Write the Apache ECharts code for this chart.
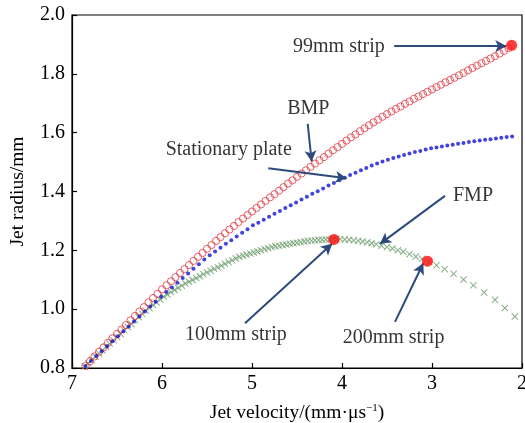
<!DOCTYPE html>
<html><head><meta charset="utf-8">
<script src="https://cdn.jsdelivr.net/npm/echarts@6/dist/echarts.min.js"></script>
<style>html,body{margin:0;padding:0;background:#fff}#c{width:525px;height:423px}</style>
</head><body><div id="c"></div>
<script>
// BMP (red open circles)
const bmpV = [6.85,6.80,6.75,6.70,6.65,6.60,6.55,6.50,6.45,6.40,
6.35,6.30,6.25,6.20,6.15,6.10,6.05,6.00,5.95,5.90,
5.85,5.80,5.75,5.70,5.65,5.60,5.55,5.50,5.45,5.40,
5.35,5.30,5.25,5.20,5.15,5.10,5.05,5.00,4.95,4.90,
4.85,4.80,4.75,4.70,4.65,4.60,4.55,4.50,4.45,4.40,
4.35,4.30,4.25,4.20,4.15,4.10,4.05,4.00,3.95,3.90,
3.85,3.80,3.75,3.70,3.65,3.60,3.55,3.50,3.45,3.40,
3.35,3.30,3.25,3.20,3.15,3.10,3.05,3.00,2.95,2.90,
2.85,2.80,2.75,2.70,2.65,2.60,2.55,2.50,2.45,2.40,
2.35,2.30,2.25,2.20,2.15];
const bmpR = [0.807,0.823,0.839,0.855,0.870,0.886,0.901,0.916,0.931,0.946,
0.962,0.977,0.992,1.007,1.023,1.038,1.052,1.067,1.081,1.095,
1.109,1.123,1.136,1.150,1.164,1.178,1.191,1.205,1.218,1.232,
1.245,1.258,1.271,1.283,1.296,1.308,1.320,1.332,1.344,1.356,
1.368,1.380,1.391,1.403,1.415,1.427,1.438,1.450,1.461,1.472,
1.484,1.495,1.506,1.517,1.529,1.540,1.551,1.562,1.573,1.584,
1.594,1.605,1.615,1.625,1.635,1.644,1.654,1.663,1.672,1.681,
1.689,1.698,1.706,1.715,1.723,1.731,1.739,1.747,1.755,1.763,
1.771,1.779,1.787,1.795,1.803,1.812,1.820,1.828,1.836,1.844,
1.852,1.860,1.869,1.878,1.887];

// Stationary plate (blue dots)
const plateV = [6.85,6.79,6.73,6.67,6.61,6.55,6.49,6.43,6.37,6.31,
6.25,6.19,6.13,6.07,6.01,5.95,5.89,5.83,5.77,5.71,
5.65,5.59,5.53,5.47,5.41,5.35,5.29,5.23,5.17,5.11,
5.05,4.99,4.93,4.87,4.81,4.75,4.69,4.63,4.57,4.51,
4.45,4.39,4.33,4.27,4.21,4.15,4.09,4.03,3.97,3.91,
3.85,3.79,3.73,3.67,3.61,3.55,3.49,3.43,3.37,3.31,
3.25,3.19,3.13,3.07,3.01,2.95,2.89,2.83,2.77,2.71,
2.65,2.59,2.53,2.47,2.41,2.35,2.29,2.23,2.17,2.11];
const plateR = [0.807,0.824,0.841,0.857,0.874,0.891,0.908,0.925,0.941,0.958,
0.975,0.992,1.009,1.025,1.042,1.058,1.074,1.090,1.106,1.121,
1.137,1.153,1.169,1.183,1.196,1.209,1.222,1.234,1.247,1.260,
1.272,1.285,1.294,1.304,1.314,1.324,1.334,1.344,1.353,1.363,
1.373,1.382,1.392,1.401,1.410,1.420,1.429,1.438,1.447,1.456,
1.464,1.472,1.480,1.488,1.495,1.502,1.508,1.514,1.519,1.524,
1.529,1.534,1.538,1.543,1.547,1.550,1.553,1.556,1.559,1.562,
1.565,1.568,1.571,1.573,1.576,1.578,1.580,1.583,1.585,1.587];

// FMP (green crosses)
const fmpV = [6.86,6.82,6.78,6.74,6.70,6.66,6.62,6.58,6.54,6.50,
6.46,6.42,6.38,6.34,6.30,6.26,6.22,6.18,6.14,6.10,
6.06,6.02,5.98,5.94,5.90,5.86,5.82,5.78,5.74,5.70,
5.66,5.62,5.58,5.54,5.50,5.46,5.42,5.38,5.34,5.30,
5.26,5.22,5.18,5.14,5.10,5.06,5.02,4.98,4.94,4.90,
4.86,4.82,4.78,4.74,4.70,4.66,4.62,4.58,4.54,4.50,
4.46,4.42,4.38,4.34,4.30,4.26,4.22,4.18,4.14,
4.10,4.06,4.02,3.97,3.92,3.87,3.82,3.77,3.72,3.67,
3.62,3.56,3.50,3.44,3.38,3.32,3.25,3.18,3.11,3.03,
2.95,2.86,2.76,2.65,2.54,2.42,2.30,2.19,2.08];
const fmpR = [0.805,0.816,0.827,0.838,0.849,0.860,0.872,0.883,0.894,0.905,
0.916,0.928,0.939,0.950,0.962,0.973,0.984,0.995,1.004,1.014,
1.023,1.033,1.042,1.050,1.058,1.065,1.073,1.080,1.087,1.093,
1.099,1.106,1.112,1.119,1.125,1.131,1.137,1.142,1.148,1.154,
1.160,1.166,1.172,1.178,1.182,1.185,1.189,1.193,1.196,1.200,
1.204,1.207,1.211,1.214,1.216,1.218,1.220,1.222,1.224,1.226,
1.228,1.230,1.232,1.233,1.234,1.235,1.236,1.237,1.237,
1.238,1.238,1.238,1.237,1.236,1.234,1.232,1.230,1.227,1.224,
1.221,1.216,1.211,1.206,1.200,1.195,1.187,1.179,1.171,1.160,
1.149,1.136,1.120,1.101,1.081,1.057,1.032,1.004,0.975];

// Strip positions (red filled dots)
const stripV = [2.115, 4.09, 3.05];
const stripR = [1.897, 1.237, 1.163];

// Annotations
const annotText = ['99mm strip','BMP','Stationary plate','FMP','100mm strip','200mm strip'];
const annotV = [4.544, 4.374, 5.959, 2.767, 5.744, 3.992];
const annotR = [1.893, 1.683, 1.541, 1.387, 0.912, 0.904];
const arrowFrom = [[3.42,1.895],[4.381,1.63],[4.819,1.479],[2.856,1.385],[5.078,0.952],[3.411,0.957]];
const arrowTo   = [[2.175,1.895],[4.337,1.502],[3.948,1.445],[3.578,1.222],[4.11,1.222],[3.097,1.156]];

// Axis ticks
const xMin = 2, xMax = 7, xStep = 1;
const yMin = 0.8, yMax = 2.0, yStep = 0.2;

const FONT = "'Liberation Serif', 'Times New Roman', serif";
const zip = (a, b) => a.map((v, i) => [v, b[i]]);
const crossPath = 'path://M0,1 L1,0 L5,4 L9,0 L10,1 L6,5 L10,9 L9,10 L5,6 L1,10 L0,9 L4,5 Z';

const chart = echarts.init(document.getElementById('c'), null, {renderer: 'canvas'});
chart.setOption({
  animation: false,
  backgroundColor: '#fff',
  grid: {left: 72, right: 3, top: 15, bottom: 55, containLabel: false, outerBoundsMode: 'none',
         show: true, borderColor: '#000', borderWidth: 1.2, backgroundColor: 'transparent'},
  xAxis: {
    type: 'value', min: xMin, max: xMax, interval: xStep, inverse: true,
    name: 'Jet velocity/(mm·μs{sup|−1})', nameLocation: 'middle', nameGap: 35,
    nameTextStyle: {fontFamily: FONT, fontSize: 19.5, color: '#000',
      rich: {sup: {fontFamily: FONT, fontSize: 11, color: '#000', padding: [0, 0, 9, 0]}}},
    axisLine: {lineStyle: {color: '#000', width: 1.2}},
    axisTick: {inside: true, length: 5, lineStyle: {color: '#000', width: 1.2}},
    axisLabel: {fontFamily: FONT, fontSize: 20, color: '#000', margin: 6},
    splitLine: {show: false}
  },
  yAxis: {
    type: 'value', min: yMin, max: yMax, interval: yStep,
    name: 'Jet radius/mm', nameLocation: 'middle', nameGap: 44, nameRotate: 90,
    nameTextStyle: {fontFamily: FONT, fontSize: 19.5, color: '#000'},
    axisLine: {lineStyle: {color: '#000', width: 1.2}},
    axisTick: {inside: true, length: 5, lineStyle: {color: '#000', width: 1.2}},
    axisLabel: {fontFamily: FONT, fontSize: 20, color: '#000', margin: 7, formatter: v => v.toFixed(1)},
    splitLine: {show: false}
  },
  series: [
    {name: 'FMP', type: 'scatter', data: zip(fmpV, fmpR), symbol: crossPath, symbolSize: 7,
     itemStyle: {color: '#6f9d6f', opacity: 0.85}, z: 2},
    {name: 'BMP', type: 'scatter', data: zip(bmpV, bmpR), symbol: 'circle', symbolSize: 7.2,
     itemStyle: {color: 'rgba(255,255,255,0)', borderColor: '#e23a44', borderWidth: 1}, z: 3},
    {name: 'Stationary plate', type: 'scatter', data: zip(plateV, plateR), symbol: 'circle', symbolSize: 4,
     itemStyle: {color: '#1414d4'}, z: 4},
    {name: 'strip', type: 'scatter', data: zip(stripV, stripR), symbol: 'circle', symbolSize: 11,
     itemStyle: {color: '#ff0a0a'}, z: 6},
    {name: 'arrows', type: 'line', data: [], z: 7,
     markLine: {silent: true, symbol: ['none', 'arrow'], symbolSize: [9, 11], precision: 4,
       lineStyle: {color: '#2c4a7c', width: 2, type: 'solid'}, label: {show: false},
       data: arrowFrom.map((f, i) => [{coord: f}, {coord: arrowTo[i]}])}},
    {name: 'labels', type: 'scatter', symbolSize: 0, z: 8, silent: true,
     data: annotText.map((t, i) => ({value: [annotV[i], annotR[i]], name: t,
       label: {show: true, formatter: t, position: t === 'BMP' ? 'inside' : 'right', distance: 0,
         align: t === 'BMP' ? 'center' : 'left', verticalAlign: 'middle',
         fontFamily: FONT, fontSize: 20, color: '#000'}}))}
  ]
});
</script>
</body></html>
